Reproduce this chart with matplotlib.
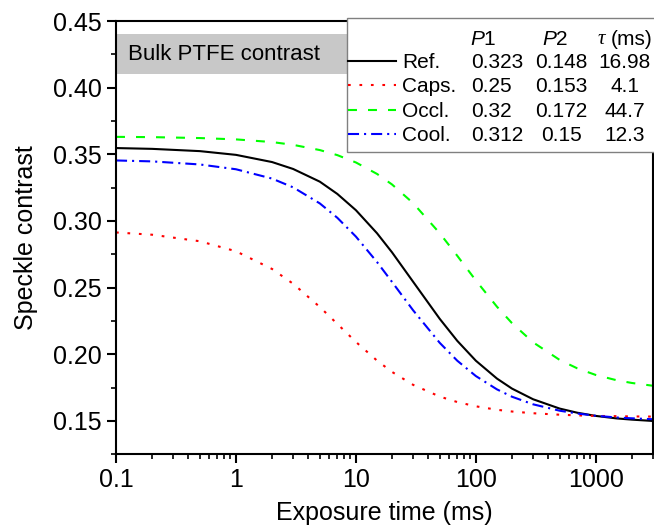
import matplotlib
matplotlib.use("Agg")
import matplotlib.pyplot as plt
from matplotlib.patches import Rectangle
from matplotlib.ticker import MultipleLocator, FixedLocator, FixedFormatter, LogLocator, NullFormatter

plt.rcParams['font.family'] = ['Liberation Sans', 'DejaVu Sans']
plt.rcParams['mathtext.fontset'] = 'custom'
plt.rcParams['mathtext.rm'] = 'Liberation Sans'
plt.rcParams['mathtext.it'] = 'Liberation Sans:italic'

# ---- data ----
t = [0.1, 0.2, 0.5, 1, 2, 3, 5, 7, 10, 15, 20, 30, 50, 70, 100, 150, 200, 300, 500,
     700, 1000, 1500, 2000, 3000]

ref_k = [0.3547, 0.3541, 0.3524, 0.3496, 0.3442, 0.3390, 0.3295, 0.3203, 0.3081, 0.2908,
         0.2765, 0.2544, 0.2266, 0.2101, 0.1952, 0.1818, 0.1743, 0.1663, 0.1593,
         0.1562, 0.1538, 0.1519, 0.1510, 0.1500]

caps_k = [0.2914, 0.2897, 0.2848, 0.2773, 0.2640, 0.2529, 0.2355, 0.2228, 0.2093, 0.1953,
          0.1868, 0.1771, 0.1683, 0.1642, 0.1610, 0.1584, 0.1571, 0.1558, 0.1547,
          0.1542, 0.1538, 0.1536, 0.1534, 0.1533]

occl_k = [0.3631, 0.3629, 0.3622, 0.3612, 0.3592, 0.3571, 0.3532, 0.3494, 0.3439, 0.3353,
          0.3274, 0.3134, 0.2908, 0.2739, 0.2554, 0.2357, 0.2234, 0.2090, 0.1958,
          0.1895, 0.1845, 0.1805, 0.1785, 0.1764]

cool_k = [0.3454, 0.3447, 0.3424, 0.3388, 0.3318, 0.3252, 0.3132, 0.3024, 0.2883, 0.2692,
          0.2543, 0.2330, 0.2086, 0.1952, 0.1837, 0.1737, 0.1682, 0.1625, 0.1577,
          0.1556, 0.1539, 0.1526, 0.1520, 0.1513]

names = ["Ref.", "Caps.", "Occl.", "Cool."]
p1 = ["0.323", "0.25", "0.32", "0.312"]
p2 = ["0.148", "0.153", "0.172", "0.15"]
tau = ["16.98", "4.1", "44.7", "12.3"]

xticks = [0.1, 1, 10, 100, 1000]
xticklabels = ["0.1", "1", "10", "100", "1000"]

# ---- figure ----
fig = plt.figure(figsize=(6.54, 5.29), dpi=100)
ax = fig.add_axes([0.1774, 0.1412, 0.8211, 0.8191])

lw = 1.5
l_ref, = ax.plot(t, ref_k, color="black", lw=lw)
l_caps, = ax.plot(t, caps_k, color="#ff0000", lw=lw, ls=(0, (1.3, 4.2)))
l_occl, = ax.plot(t, occl_k, color="#00ff00", lw=lw, ls=(0, (4.3, 5.3)))
l_cool, = ax.plot(t, cool_k, color="#0000ff", lw=lw, ls=(0, (5.3, 2.4, 1, 2.4)))

ax.axhspan(0.41, 0.44, color="#c8c8c8", zorder=0, lw=0)
ax.text(0.022, 0.425, "Bulk PTFE contrast", transform=ax.get_yaxis_transform(),
        fontsize=16, va="center", ha="left")

ax.set_xscale("log")
ax.set_xlim(0.1, 3000)
ax.set_ylim(0.125, 0.45)

ax.xaxis.set_major_locator(FixedLocator(xticks))
ax.xaxis.set_major_formatter(FixedFormatter(xticklabels))
ax.xaxis.set_minor_locator(LogLocator(base=10, subs=range(2, 10), numticks=20))
ax.xaxis.set_minor_formatter(NullFormatter())
ax.yaxis.set_major_locator(MultipleLocator(0.05))
ax.yaxis.set_minor_locator(MultipleLocator(0.025))
ax.yaxis.set_major_formatter(plt.FuncFormatter(lambda v, p: f"{v:.2f}"))

ax.tick_params(which="major", direction="out", length=6.2, width=1.5, labelsize=18, pad=4)
ax.tick_params(which="minor", direction="out", length=3.5, width=1.2)
for s in ax.spines.values():
    s.set_linewidth(1.5)

ax.set_xlabel("Exposure time (ms)", fontsize=18, labelpad=6)
ax.set_ylabel("Speckle contrast", fontsize=18, labelpad=11)

# ---- legend table ----
box = Rectangle((0.43, 0.698), 0.58, 0.31, transform=ax.transAxes, facecolor="white",
                edgecolor="#808080", lw=1.0, zorder=4, clip_on=False)
ax.add_patch(box)

leg = ax.legend([l_ref, l_caps, l_occl, l_cool], names, loc="upper left",
                bbox_to_anchor=(0.432, 0.926), frameon=False, fontsize=15,
                handlelength=2.3, handletextpad=0.3, labelspacing=0.26,
                borderpad=0, borderaxespad=0)
leg.set_zorder(5)

fig.canvas.draw()
inv = ax.transAxes.inverted()
rows = []
for txt in leg.get_texts():
    bb = txt.get_window_extent()
    rows.append(inv.transform((0, (bb.y0 + bb.y1) / 2))[1])

kw = dict(transform=ax.transAxes, fontsize=15, va="center", zorder=6)
for y, a, b, c in zip(rows, p1, p2, tau):
    ax.text(0.661, y, a, ha="left", **kw)
    ax.text(0.829, y, b, ha="center", **kw)
    ax.text(0.947, y, c, ha="center", **kw)
hy = rows[0] + (rows[0] - rows[1]) * 0.95
ax.text(0.683, hy, "$\\mathit{P}$1", ha="center", **kw)
ax.text(0.817, hy, "$\\mathit{P}$2", ha="center", **kw)
ax.text(0.911, hy, "\u03c4", ha="right", family="Liberation Serif", style="italic", **kw)
ax.text(0.921, hy, "(ms)", ha="left", **kw)

fig.savefig("out.png", dpi=100)
